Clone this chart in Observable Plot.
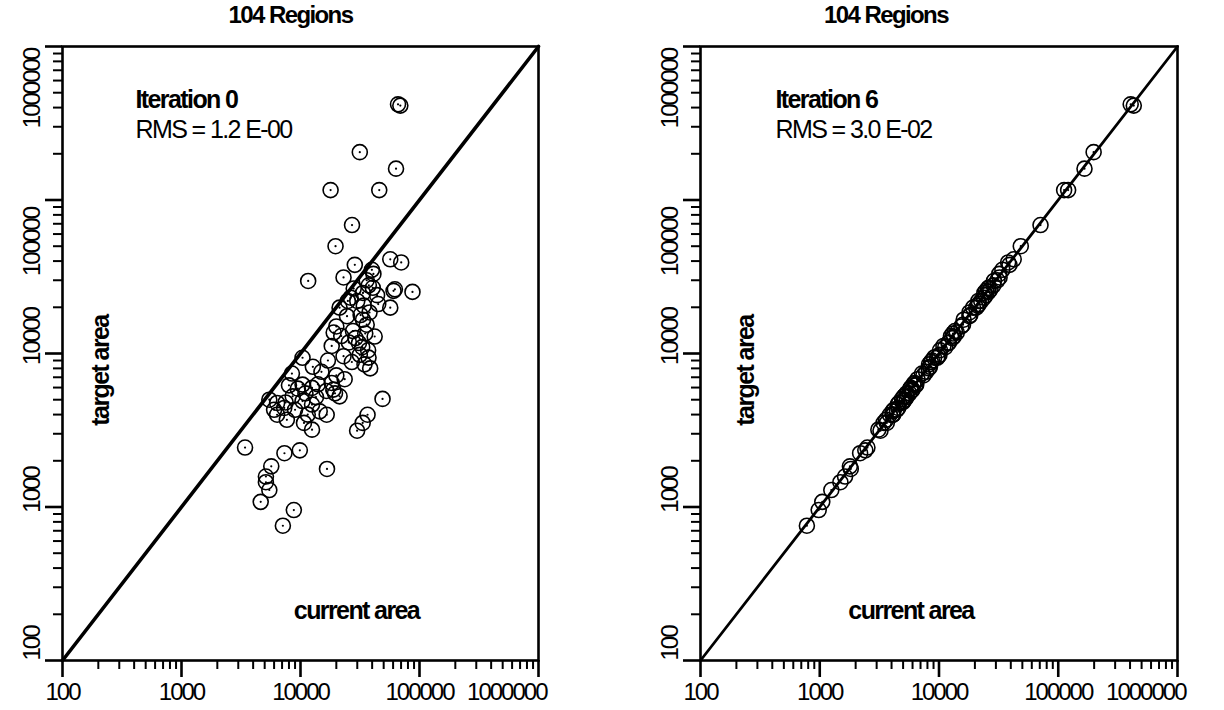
<!DOCTYPE html>
<html><head><meta charset="utf-8">
<script src="https://cdn.jsdelivr.net/npm/d3@7"></script>
<script src="https://cdn.jsdelivr.net/npm/@observablehq/plot@0.6"></script>
<style>
html,body{margin:0;padding:0;background:#fff;}
#wrap{display:flex;width:1224px;height:710px;overflow:hidden;}
svg text{letter-spacing:-1.6px;}
svg g.ticklab text{letter-spacing:-2px;}
</style></head><body><div id="wrap"></div>
<script>
// Target area of each of the 104 regions (same for both panels)
const target = [420000,412000,205000,160000,116000,116000,68700,50000,41100,39200,
  37800,35100,31300,29700,27800,26800,26200,25600,25200,24800,
  23100,19900,19900,21000,17500,16600,15400,13700,14000,12900,
  11200,11700,9600,9400,9380,8190,7400,6270,5970,6430,
  5820,5260,5700,5000,4760,4420,5260,4900,4650,3990,
  3700,3530,3190,3990,3140,3530,3990,5060,2440,2240,
  2340,1840,1580,1290,1450,1080,1770,955,755,22000,
  20500,18500,17800,13500,12600,11000,10500,9800,8500,8000,
  8800,11800,13000,15000,22000,26500,30000,33000,24000,9000,
  7600,6300,5500,5900,6200,4800,4300,4000,4200,7200,
  6800,4300,5500,5200];
// Current area at iteration 0
const current0 = [66000,69000,31500,63500,17900,45900,27100,19700,56800,70200,
  28600,39800,23000,11600,37500,40500,62100,60500,87300,33500,
  26400,21300,56800,45000,24600,33500,36000,19000,27600,42000,
  18300,31000,23000,37300,10400,12700,8470,10400,12500,18300,
  18900,21300,16500,5470,6360,7300,8600,10400,12500,6360,
  7680,10700,12500,16600,29900,33300,36600,48900,3420,7330,
  9870,5680,5120,5470,5120,4630,16700,8790,7110,30000,
  34000,38000,32000,35000,29000,33000,37000,31500,34500,38500,
  27000,25500,22000,20000,25000,28000,36000,41000,44000,17000,
  15000,14000,11000,9500,8000,7500,9000,11500,14500,20000,
  23500,6000,19500,13500];
// Current area at iteration 6
const current6 = [405000,430000,198000,166000,112000,121000,71000,48500,42300,38000,
  39000,34000,32200,28900,28600,26000,27000,24800,26000,24000,
  23800,20500,19300,21600,18000,16100,15900,14100,13600,13300,
  10900,12000,9900,9100,9650,8400,7200,6450,5800,6250,
  6000,5100,5850,5150,4620,4550,5100,5050,4500,4100,
  3600,3650,3100,3870,3230,3430,4100,4900,2510,2180,
  2410,1790,1630,1250,1490,1050,1820,980,780,21400,
  21100,18000,18300,13100,12900,11300,10200,10100,8250,8200,
  8550,12100,12600,15400,22600,25800,30900,32000,24700,8750,
  7800,6100,5650,5750,6350,4950,4180,4120,4080,7400,
  6600,4420,5350,5350];

const decades = [100, 1000, 10000, 100000, 1000000];
const lowerDecades = [100, 1000, 10000];
const upperDecades = [100000, 1000000];
const innerXDecades = [100, 1000, 10000, 100000];
const lastXDecade = [1000000];
const multipliers = [2, 3, 4, 5, 6, 7, 8, 9];
const minorTicks = decades.slice(0, -1).flatMap(d => multipliers.map(m => d * m));
const diagonal = [100, 1000000];

const titleText = "104 Regions";
const xLabel = "current area";
const yLabel = "target area";
const panels = [
  {iter: "Iteration 0", rms: "RMS = 1.2 E-00", current: current0, ml: 62, mr: 74, lineW: 3.6,
   titleDx: -10, iterDx: 73, yLabDx: 38, xLabDx: 56},
  {iter: "Iteration 6", rms: "RMS = 3.0 E-02", current: current6, ml: 88, mr: 47, lineW: 2.8,
   titleDx: -53, iterDx: 75, yLabDx: 45, xLabDx: -28}
];

const FONT = '"Liberation Sans", Arial, Helvetica, sans-serif';
const fmt = d3.format("d");
const none = () => "";

function makePanel(p) {
  const data = target.map((t, i) => ({current: p.current[i], target: t}));
  const lab = {fontSize: 24, label: null, tickSize: 0, className: "ticklab"};
  return Plot.plot({
    width: 612, height: 710,
    marginLeft: p.ml, marginRight: p.mr, marginTop: 46, marginBottom: 50,
    style: {fontFamily: FONT, background: "white", color: "black", overflow: "visible"},
    x: {type: "log", domain: [100, 1000000], label: null},
    y: {type: "log", domain: [100, 1000000], label: null},
    marks: [
      // tick marks
      Plot.axisX({ticks: minorTicks, tickSize: 9, tickFormat: none, strokeWidth: 2, label: null}),
      Plot.axisX({ticks: decades, tickSize: 17, tickFormat: none, strokeWidth: 2.6, label: null}),
      Plot.axisY({ticks: minorTicks, tickSize: 9, tickFormat: none, strokeWidth: 2, label: null}),
      Plot.axisY({ticks: decades, tickSize: 17, tickFormat: none, strokeWidth: 2.6, label: null}),
      // tick labels
      Plot.axisX({...lab, ticks: innerXDecades, tickFormat: fmt, tickPadding: 22}),
      Plot.axisX({...lab, ticks: lastXDecade, tickFormat: fmt, tickPadding: 22, textAnchor: "end", dx: 8}),
      Plot.axisY({...lab, ticks: lowerDecades, tickFormat: fmt, tickRotate: -90, tickPadding: 23, dy: -17}),
      Plot.axisY({...lab, ticks: upperDecades, tickFormat: fmt, tickRotate: -90, tickPadding: 23, dy: 42}),
      Plot.frame({stroke: "black", strokeWidth: 2.6}),
      Plot.line(diagonal, {x: d => d, y: d => d, stroke: "black", strokeWidth: p.lineW}),
      Plot.dot(data, {x: "current", y: "target", r: 7.5, stroke: "black", strokeWidth: 1.6, fill: "none"}),
      Plot.dot(data, {x: "current", y: "target", r: 1.1, fill: "black", stroke: null}),
      Plot.text([titleText], {frameAnchor: "top", dx: p.titleDx, dy: -41, fontSize: 24, fontWeight: "bold"}),
      Plot.text([p.iter], {frameAnchor: "top-left", dx: p.iterDx, dy: 44, textAnchor: "start", fontSize: 25, fontWeight: "bold"}),
      Plot.text([p.rms], {frameAnchor: "top-left", dx: p.iterDx, dy: 74, textAnchor: "start", fontSize: 25}),
      Plot.text([yLabel], {frameAnchor: "left", dx: p.yLabDx, dy: 17, rotate: -90, textAnchor: "middle", fontSize: 25, fontWeight: "bold"}),
      Plot.text([xLabel], {frameAnchor: "bottom", dx: p.xLabDx, dy: -42, fontSize: 25, fontWeight: "bold"})
    ]
  });
}

const wrap = document.getElementById("wrap");
panels.forEach(p => wrap.appendChild(makePanel(p)));
</script></body></html>
